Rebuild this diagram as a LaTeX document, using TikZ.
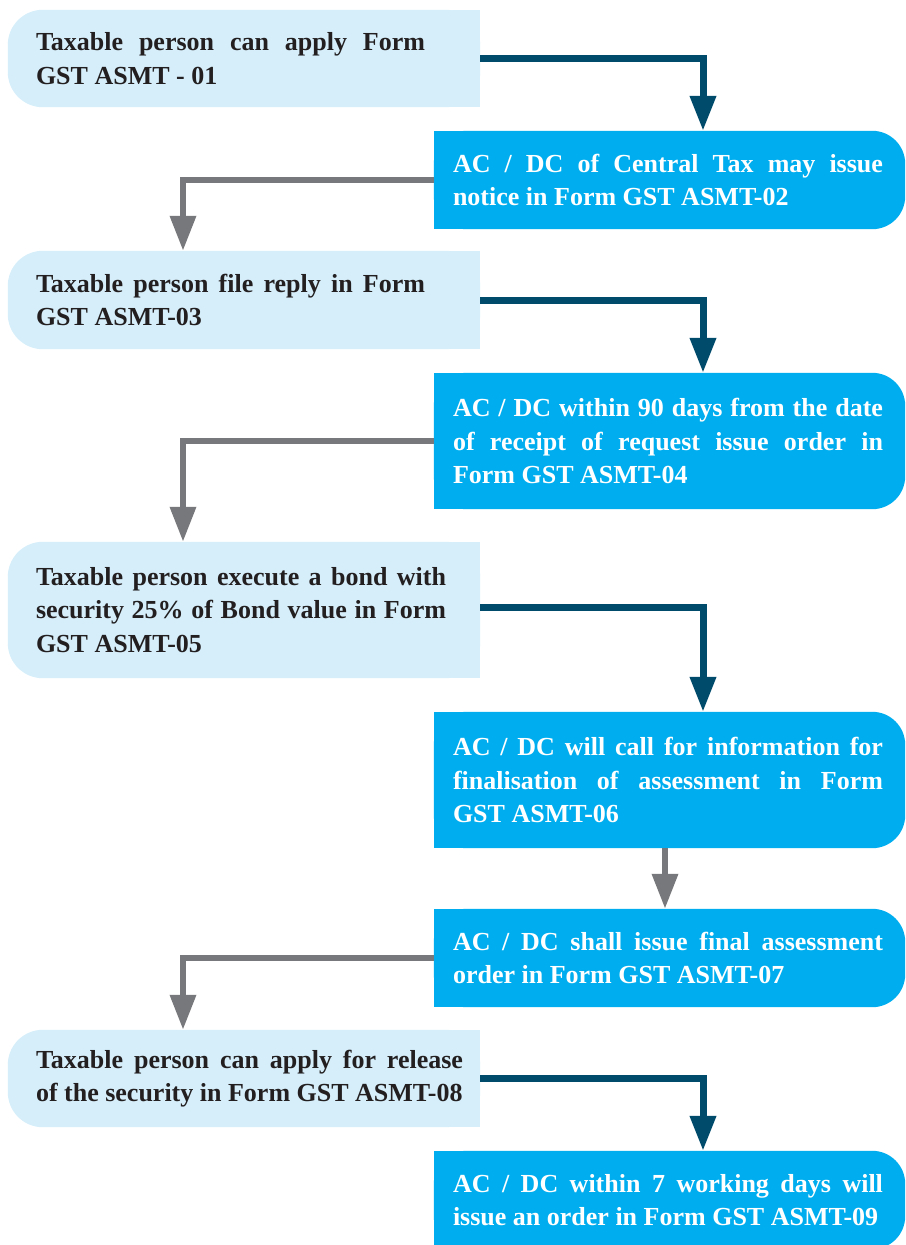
\documentclass[tikz,border=0pt]{standalone}
\usepackage{fontspec}
\setmainfont{Liberation Serif}
\usetikzlibrary{arrows.meta}
\definecolor{lightc}{HTML}{D5EEFA}
\definecolor{bluec}{HTML}{00AEEF}
\definecolor{darkc}{HTML}{004B6B}
\definecolor{grayc}{HTML}{77787B}
\definecolor{textc}{HTML}{231F20}
\hyphenpenalty=10000
\exhyphenpenalty=10000
\tikzset{
  lbox/.style={inner sep=0pt, minimum width=472pt},
  rbox/.style={inner sep=0pt, minimum width=471pt},
  basetext/.style={anchor=west, inner sep=0pt, align=justify,
    font=\bfseries\fontsize{26}{33.5}\selectfont},
  ltext/.style={basetext, text=textc},
  rtext/.style={basetext, text=white, text width=430pt},
  darrow/.style={draw=darkc, line width=7pt, -{Triangle[width=25pt,length=35pt]}},
  garrow/.style={draw=grayc, line width=6.5pt, -{Triangle[width=25pt,length=35pt]}},
}
\begin{document}
\begin{tikzpicture}[x=1pt,y=-1pt]
\useasboundingbox (0,0) rectangle (905,1245);
\clip (0,0) rectangle (905,1245);
% box frames
\node[lbox, minimum height=97pt]  (b1) at (244,58.5) {};
\node[rbox, minimum height=98pt]  (b2) at (669.5,180) {};
\node[lbox, minimum height=98pt]  (b3) at (244,300) {};
\node[rbox, minimum height=136pt] (b4) at (669.5,441) {};
\node[lbox, minimum height=136pt] (b5) at (244,610) {};
\node[rbox, minimum height=136pt] (b6) at (669.5,780) {};
\node[rbox, minimum height=98pt]  (b7) at (669.5,958) {};
\node[lbox, minimum height=97pt]  (b8) at (244,1078.5) {};
\node[rbox, minimum height=98pt]  (b9) at (669.5,1200) {};
% fills
\foreach \n in {b1,b3,b5,b8}{
  \fill[lightc, rounded corners=35pt] (\n.north west) rectangle (\n.south east);
  \fill[lightc] (\n.north) rectangle (\n.south east);
}
\foreach \n in {b2,b4,b6,b7,b9}{
  \fill[bluec, rounded corners=33pt] (\n.north west) rectangle (\n.south east);
  \fill[bluec] (\n.north west) rectangle (\n.south);
}
% texts
\node[ltext, text width=389pt] (t1) at ([xshift=28pt]b1.west)
  {Taxable person can apply Form\linebreak GST ASMT - 01};
\node[rtext] (t2) at ([xshift=19pt]b2.west)
  {AC / DC of Central Tax may issue\linebreak notice in Form GST ASMT-02};
\node[ltext, text width=389pt] (t3) at ([xshift=28pt]b3.west)
  {Taxable person file reply in Form\linebreak GST ASMT-03};
\node[rtext] (t4) at ([xshift=19pt]b4.west)
  {AC / DC within 90 days from the date\linebreak of receipt of request issue order in\linebreak Form GST ASMT-04};
\node[ltext, text width=410pt] (t5) at ([xshift=28pt]b5.west)
  {Taxable person execute a bond with\linebreak security 25\% of Bond value in Form\linebreak GST ASMT-05};
\node[rtext] (t6) at ([xshift=19pt]b6.west)
  {AC / DC will call for information for\linebreak finalisation of assessment in Form\linebreak GST ASMT-06};
\node[rtext] (t7) at ([xshift=19pt]b7.west)
  {AC / DC shall issue final assessment\linebreak order in Form GST ASMT-07};
\node[ltext, text width=427pt] (t8) at ([xshift=28pt]b8.west)
  {Taxable person can apply for release\linebreak of the security in Form GST ASMT-08};
\node[rtext] (t9) at ([xshift=19pt]b9.west)
  {AC / DC within 7 working days will\linebreak issue an order in Form GST ASMT-09};
% connectors
\draw[darrow] (b1.east) -| ([xshift=33.5pt]b2.north);
\draw[garrow] (b2.west) -| ([xshift=-61pt]b3.north);
\draw[darrow] (b3.east) -| ([xshift=33.5pt]b4.north);
\draw[garrow] (b4.west) -| ([xshift=-61pt]b5.north);
\draw[darrow] ([yshift=3pt]b5.east) -| ([xshift=33.5pt]b6.north);
\draw[garrow] ([xshift=-4.5pt]b6.south) -- ([xshift=-4.5pt]b7.north);
\draw[garrow] (b7.west) -| ([xshift=-61pt]b8.north);
\draw[darrow] (b8.east) -| ([xshift=33.5pt]b9.north);
\end{tikzpicture}
\end{document}
